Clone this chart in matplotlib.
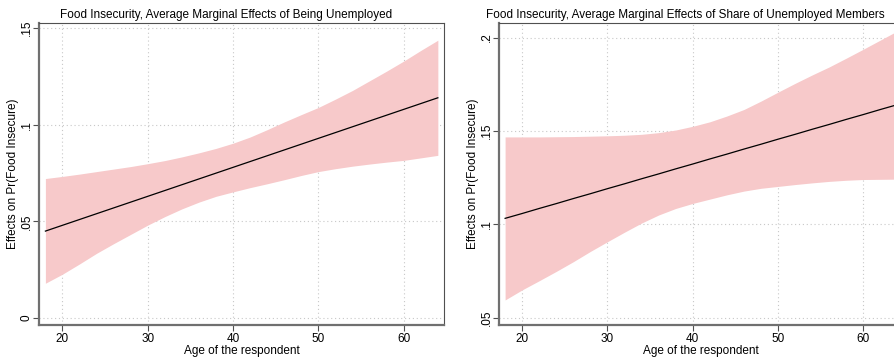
import matplotlib
matplotlib.use("Agg")
import matplotlib.pyplot as plt

plt.rcParams['font.family'] = ['Liberation Sans', 'DejaVu Sans']

# margins estimates over age, one set per model
ages = [18, 20, 22, 24, 26, 28, 30, 32, 34, 36, 38, 40,
        42, 44, 46, 48, 50, 52, 54, 56, 58, 60, 62, 64]

unemp_effect = [0.0450, 0.0480, 0.0510, 0.0540, 0.0570, 0.0600, 0.0630, 0.0660,
                0.0690, 0.0720, 0.0750, 0.0780, 0.0810, 0.0840, 0.0870, 0.0900,
                0.0930, 0.0960, 0.0990, 0.1020, 0.1050, 0.1080, 0.1110, 0.1140]
unemp_upper = [0.0722, 0.0733, 0.0745, 0.0758, 0.0771, 0.0784, 0.0799, 0.0815,
               0.0834, 0.0855, 0.0878, 0.0905, 0.0937, 0.0975, 0.1015, 0.1053,
               0.1090, 0.1133, 0.1178, 0.1228, 0.1278, 0.1330, 0.1385, 0.1438]
unemp_lower = [0.0180, 0.0227, 0.0280, 0.0335, 0.0385, 0.0433, 0.0481, 0.0525,
               0.0565, 0.0600, 0.0630, 0.0653, 0.0675, 0.0695, 0.0716, 0.0738,
               0.0758, 0.0773, 0.0786, 0.0797, 0.0807, 0.0816, 0.0829, 0.0842]

share_effect = [0.1032, 0.1058, 0.1085, 0.1111, 0.1138, 0.1164, 0.1191, 0.1217,
                0.1244, 0.1270, 0.1297, 0.1323, 0.1350, 0.1376, 0.1403, 0.1429,
                0.1456, 0.1482, 0.1509, 0.1535, 0.1562, 0.1588, 0.1615, 0.1641]
share_upper = [0.1468, 0.1468, 0.1468, 0.1469, 0.1470, 0.1472, 0.1474, 0.1477,
               0.1482, 0.1491, 0.1505, 0.1525, 0.1549, 0.1580, 0.1615, 0.1660,
               0.1708, 0.1755, 0.1800, 0.1843, 0.1890, 0.1938, 0.1987, 0.2036]
share_lower = [0.0595, 0.0649, 0.0698, 0.0748, 0.0800, 0.0855, 0.0907, 0.0958,
               0.1007, 0.1050, 0.1085, 0.1112, 0.1135, 0.1158, 0.1178, 0.1193,
               0.1203, 0.1213, 0.1222, 0.1230, 0.1236, 0.1240, 0.1241, 0.1242]

x_ticks = [20, 30, 40, 50, 60]
left_yticks = [0, 0.05, 0.1, 0.15]
left_ylabels = ["0", ".05", ".1", ".15"]
right_yticks = [0.05, 0.1, 0.15, 0.2]
right_ylabels = [".05", ".1", ".15", ".2"]

titles = ["Food Insecurity, Average Marginal Effects of Being Unemployed",
          "Food Insecurity, Average Marginal Effects of Share of Unemployed Members"]

W, H = 894, 358
fig = plt.figure(figsize=(W / 100, H / 100), dpi=100)
fig.patch.set_facecolor("white")

band_col = "#f7c9ca"


def panel(left_px, eff, lo, hi, yticks, ylabels, ylim, title, title_x):
    ax = fig.add_axes([left_px / W, (H - 325) / H, 405 / W, 302 / H])
    ax.fill_between(ages, lo, hi, color=band_col, lw=0, zorder=2)
    ax.plot(ages, eff, color="black", lw=0.9, zorder=3)
    ax.set_xlim(17.25, 64.72)
    ax.set_ylim(*ylim)
    ax.set_xticks(x_ticks)
    ax.set_yticks(yticks)
    ax.set_yticklabels(ylabels, rotation=90, va="center")
    ax.grid(True, ls=(0, (1, 2.5)), color="#c8c8c8", lw=0.8, zorder=0)
    ax.set_axisbelow(True)
    for s in ["left", "bottom"]:
        ax.spines[s].set_color("#707070")
        ax.spines[s].set_linewidth(1.6)
    for s in ["top", "right"]:
        ax.spines[s].set_color("#505050")
        ax.spines[s].set_linewidth(0.8)
    ax.tick_params(axis="both", length=4, width=0.8, color="#505050",
                   labelsize=8.5, pad=2)
    ax.tick_params(axis="y", pad=0.5)
    ax.set_xlabel("Age of the respondent", fontsize=8.5, labelpad=0)
    ax.set_ylabel("Effects on Pr(Food Insecure)", fontsize=8.5, labelpad=1)
    fig.text(title_x / W, (H - 15) / H, title, fontsize=8.5, ha="center", va="center")
    return ax


panel(39, unemp_effect, unemp_lower, unemp_upper, left_yticks, left_ylabels,
      (-0.0036, 0.1527), titles[0], 226)
panel(498.7, share_effect, share_lower, share_upper, right_yticks, right_ylabels,
      (0.0461, 0.2078), titles[1], 685)

fig.savefig("out.png", dpi=100)
